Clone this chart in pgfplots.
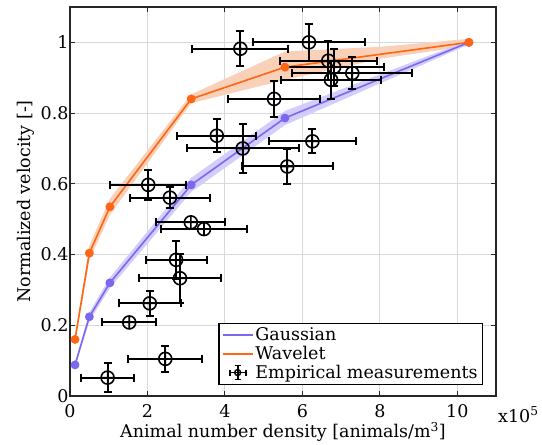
\documentclass[border=0pt]{standalone}
\usepackage{fontspec}
\setmainfont{DejaVu Serif}
\usepackage{pgfplots}
\usepackage{pgfplotstable}
\pgfplotsset{compat=1.18}

\definecolor{gausscol}{HTML}{7B68F0}
\definecolor{gaussband}{HTML}{D3CDFC}
\definecolor{wavecol}{HTML}{FF6512}
\definecolor{waveband}{HTML}{F9D0B8}

\pgfplotstableread{
x y ex ey
4.40 0.982 1.24 0.050
6.17 1.000 1.45 0.053
6.67 0.948 1.25 0.055
6.82 0.930 1.29 0.052
7.29 0.913 1.55 0.046
6.74 0.894 1.28 0.053
5.27 0.840 1.18 0.050
3.79 0.736 1.02 0.047
4.46 0.700 1.45 0.070
6.26 0.720 1.12 0.034
5.61 0.649 1.18 0.050
2.02 0.597 0.98 0.042
2.58 0.561 1.03 0.030
3.12 0.491 0.89 0.000
3.46 0.472 1.12 0.000
2.74 0.385 0.79 0.054
2.84 0.333 1.07 0.069
2.06 0.262 0.80 0.036
1.53 0.208 0.70 0.000
2.46 0.105 0.95 0.036
0.97 0.052 0.69 0.040
}\emp

\pgfplotstableread{
x y
0.13 0.088
0.50 0.224
1.03 0.320
3.13 0.597
5.55 0.786
10.30 1.000
}\gaussdata

\pgfplotstableread{
x y
0.13 0.160
0.50 0.404
1.03 0.535
3.13 0.840
5.55 0.930
10.30 1.000
}\wavedata

\begin{document}
\begin{tikzpicture}[font=\fontsize{17.5bp}{20bp}\selectfont]
\path[use as bounding box] (-70bp,-49bp) rectangle (472bp,396bp);
\begin{axis}[
  name=ax,
  scale only axis, width=426bp, height=389bp,
  xmin=0, xmax=11, ymin=0, ymax=1.1,
  xtick={0,2,4,6,8,10}, ytick={0,0.2,0.4,0.6,0.8,1},
  yticklabels={0,0.2,0.4,0.6,0.8,1},
  tick align=inside, tick pos=both,
  grid=major, major grid style={black!15, line width=1bp},
  axis line style={line width=1.3bp, black!85},
  major tick length=5bp,
  tick style={line width=1bp, black!85},
  /pgf/number format/assume math mode=true,
  xticklabel style={yshift=-5bp},
  yticklabel style={xshift=2bp},
  xlabel={Animal number density [animals/m\textsuperscript{3}]},
  ylabel={Normalized velocity [-]},
  xlabel style={yshift=2.5bp},
  ylabel style={yshift=-1bp},
  legend style={at={(rel axis cs:0.97,0.028)}, anchor=south east, draw=black, line width=1.3bp,
    font=\fontsize{17.5bp}{18bp}\selectfont, inner xsep=3bp, inner ysep=2.5bp, row sep=0bp},
  legend cell align=left,
]
% bands
\addplot[fill=waveband, draw=none, forget plot] coordinates {
(0.13,0.170) (0.50,0.425) (1.03,0.558) (3.13,0.853) (5.55,0.974) (8.08,0.988) (10.30,1.010)
(10.30,0.990) (8.08,0.955) (5.55,0.894) (3.13,0.828) (1.03,0.512) (0.50,0.384) (0.13,0.150)
} --cycle;
\addplot[fill=gaussband, draw=none, forget plot] coordinates {
(0.13,0.093) (0.50,0.236) (1.03,0.335) (3.13,0.617) (5.55,0.806) (10.30,1.006)
(10.30,0.994) (5.55,0.766) (3.13,0.577) (1.03,0.305) (0.50,0.212) (0.13,0.083)
} --cycle;
% lines
\addplot[color=gausscol, line width=1.6bp, mark=*, mark size=3.6bp, mark options={draw=gausscol, fill=gausscol},
  legend image code/.code={\draw[color=gausscol, line width=1.6bp] (0bp,0bp) -- (30bp,0bp);}] table[x=x,y=y] {\gaussdata};
\addlegendentry{Gaussian}
\addplot[color=wavecol, line width=1.6bp, mark=*, mark size=3.6bp, mark options={draw=wavecol, fill=wavecol},
  legend image code/.code={\draw[color=wavecol, line width=1.6bp] (0bp,0bp) -- (30bp,0bp);}] table[x=x,y=y] {\wavedata};
\addlegendentry{Wavelet}
% empirical
\addplot[black, only marks, mark=oplus, mark size=6.5bp, mark options={line width=1.6bp, fill=none},
  error bars/.cd, x dir=both, x explicit, y dir=both, y explicit,
  error bar style={line width=2bp, black},
  error mark options={rotate=90, mark size=4bp, line width=2bp, black},
  /pgfplots/legend image code/.code={
    \draw[black, line width=1.8bp] (7bp,0bp) -- (23bp,0bp);
    \draw[black, line width=1.8bp] (7bp,-3bp) -- (7bp,3bp);
    \draw[black, line width=1.8bp] (23bp,-3bp) -- (23bp,3bp);
    \draw[black, line width=1.8bp] (15bp,-7bp) -- (15bp,7bp);
    \draw[black, line width=1.8bp] (12bp,-7bp) -- (18bp,-7bp);
    \draw[black, line width=1.8bp] (12bp,7bp) -- (18bp,7bp);
    \draw[black, line width=1.4bp] (15bp,0bp) circle (3bp);
  },
  ] table[x=x, y=y, x error=ex, y error=ey] {\emp};
\addlegendentry{Empirical measurements}
\end{axis}
\node[anchor=base west, inner sep=0pt] at ([xshift=2bp, yshift=-26bp]ax.south east) {x10\textsuperscript{5}};
\end{tikzpicture}
\end{document}
